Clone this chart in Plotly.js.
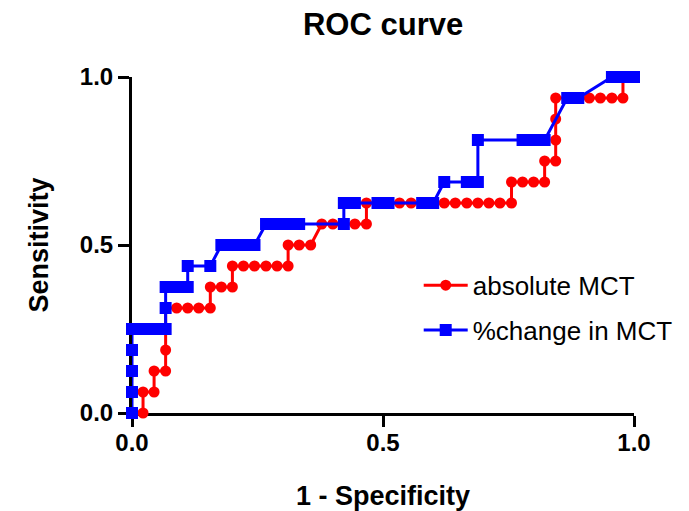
<!DOCTYPE html>
<html>
<head>
<meta charset="utf-8">
<script src="https://cdn.plot.ly/plotly-3.0.1.min.js"></script>
<style>html,body{margin:0;padding:0;background:#fff;}#chart{width:689px;height:511px;}</style>
</head>
<body>
<div id="chart"></div>
<script>
// 1 - Specificity / Sensitivity values
const absX = [0.022,0.022,0.044,0.044,0.067,0.067,0.067,0.067,0.089,0.111,0.133,0.156,0.156,0.178,0.2,0.2,0.222,0.244,0.267,0.289,0.311,0.311,0.333,0.356,0.378,0.4,0.422,0.444,0.467,0.467,0.489,0.511,0.533,0.556,0.578,0.6,0.622,0.644,0.667,0.689,0.711,0.733,0.756,0.756,0.778,0.8,0.822,0.822,0.844,0.844,0.844,0.844,0.867,0.889,0.911,0.933,0.956,0.978,0.978,1.0];
const absY = [0,0.0625,0.0625,0.125,0.125,0.1875,0.25,0.3125,0.3125,0.3125,0.3125,0.3125,0.375,0.375,0.375,0.4375,0.4375,0.4375,0.4375,0.4375,0.4375,0.5,0.5,0.5,0.5625,0.5625,0.5625,0.5625,0.5625,0.625,0.625,0.625,0.625,0.625,0.625,0.625,0.625,0.625,0.625,0.625,0.625,0.625,0.625,0.6875,0.6875,0.6875,0.6875,0.75,0.75,0.8125,0.875,0.9375,0.9375,0.9375,0.9375,0.9375,0.9375,0.9375,1,1];
const pctX = [0,0,0,0,0,0.022,0.044,0.067,0.067,0.067,0.089,0.111,0.111,0.156,0.178,0.2,0.222,0.244,0.267,0.289,0.311,0.333,0.422,0.422,0.444,0.489,0.511,0.578,0.6,0.622,0.667,0.689,0.689,0.778,0.8,0.822,0.867,0.889,0.956,0.978,1.0];
const pctY = [0,0.0625,0.125,0.1875,0.25,0.25,0.25,0.25,0.3125,0.375,0.375,0.375,0.4375,0.4375,0.5,0.5,0.5,0.5,0.5625,0.5625,0.5625,0.5625,0.5625,0.625,0.625,0.625,0.625,0.625,0.625,0.6875,0.6875,0.6875,0.8125,0.8125,0.8125,0.8125,0.9375,0.9375,1,1,1];
const seriesNames = ['absolute MCT', '%change in MCT'];
const tickVals = [0, 0.5, 1];
const tickText = ['0.0', '0.5', '1.0'];

const FONT = 'Liberation Sans, Arial, sans-serif';
const traces = [
  {x: absX, y: absY, name: seriesNames[0], type: 'scatter', mode: 'lines+markers',
   line: {color: '#FF0000', width: 3}, marker: {symbol: 'circle', size: 11, color: '#FF0000'},
   cliponaxis: false, legendgroup: 'a'},
  {x: pctX, y: pctY, name: seriesNames[1], type: 'scatter', mode: 'lines+markers',
   line: {color: '#0000FF', width: 3}, marker: {symbol: 'square', size: 12, color: '#0000FF'},
   cliponaxis: false, legendgroup: 'b'}
];
const axisCommon = {
  range: [0, 1], tickvals: tickVals, ticktext: tickText,
  showline: true, linewidth: 3, linecolor: '#000', mirror: false,
  ticks: 'outside', ticklen: 11, tickwidth: 3, tickcolor: '#000',
  showgrid: false, zeroline: false, layer: 'below traces',
  tickfont: {family: FONT, size: 24, color: '#000', weight: 'bold'}
};
const layout = {
  width: 689, height: 511,
  margin: {l: 132, r: 54, t: 77, b: 98},
  paper_bgcolor: '#fff', plot_bgcolor: '#fff',
  font: {family: FONT, color: '#000'},
  title: {text: 'ROC curve', font: {family: FONT, size: 31, weight: 'bold', color: '#000'},
          x: 0.556, xanchor: 'center', y: 0.953, yanchor: 'middle', yref: 'container'},
  xaxis: Object.assign({}, axisCommon, {
    ticklabelstandoff: -5,
    title: {text: '1 - Specificity', font: {family: FONT, size: 27, weight: 'bold', color: '#000'}, standoff: 34}
  }),
  yaxis: Object.assign({}, axisCommon, {
    title: {text: 'Sensitivity', font: {family: FONT, size: 27, weight: 'bold', color: '#000'}, standoff: 24}
  }),
  showlegend: true,
  legend: {x: 0.57, y: 0.45, xanchor: 'left', yanchor: 'top', bgcolor: 'rgba(0,0,0,0)',
           font: {family: FONT, size: 26, color: '#000'}, tracegroupgap: 8, itemwidth: 44}
};
Plotly.newPlot('chart', traces, layout, {displayModeBar: false, staticPlot: true});
</script>
</body>
</html>
